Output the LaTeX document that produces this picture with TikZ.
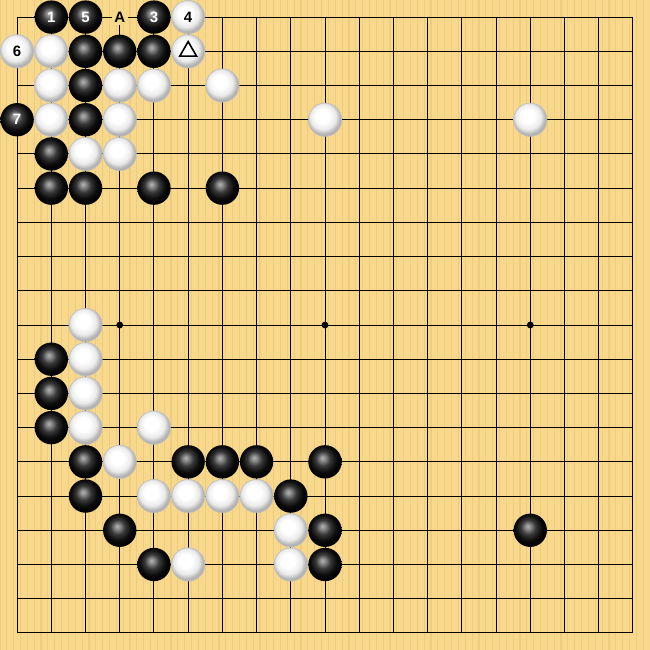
\documentclass[tikz,border=0pt]{standalone}
\usepackage{fontspec}
\setsansfont{Liberation Sans}
\usepackage{tikz}
\usetikzlibrary{shapes.geometric}

\definecolor{boardwood}{RGB}{247,216,140}
\definecolor{boardgrain}{RGB}{238,204,124}
\pgfdeclareradialshading{blackball}{\pgfpoint{-4bp}{6bp}}{color(0bp)=(black!30); color(4bp)=(black!45); color(11bp)=(black!78); color(19bp)=(black!95); color(25bp)=(black); color(50bp)=(black)}
\pgfdeclareradialshading{whiteball}{\pgfpoint{-5bp}{7bp}}{color(0bp)=(white); color(10bp)=(white); color(19bp)=(black!8); color(25bp)=(black!30); color(50bp)=(black!30)}

\tikzset{
  stonebase/.style={circle,inner sep=0pt,minimum size=0.585cm,font=\sffamily\bfseries\fontsize{7.5}{8}\selectfont},
  bstone/.style={stonebase,shade,shading=blackball,text=white},
  wstone/.style={stonebase,shade,shading=whiteball,draw=black!25,line width=0.3pt,text=black},
  gridline/.style={line width=0.45pt,black},
  starpoint/.style={circle,fill=black,inner sep=0pt,minimum size=0.12cm},
}

\begin{document}
\begin{tikzpicture}[x=0.6cm,y=0.6cm]

\newcommand\stone[4]
{
    \node [#1stone] (#1#2-#3) at (#2,-#3) {#4};
}

\fill[boardwood] (-0.5,0.5) rectangle (18.5,-18.5);
\useasboundingbox (-0.5,0.5) rectangle (18.5,-18.5);
\foreach \g in {0,...,94}
    \draw[boardgrain,line width=0.6pt] ({-0.5+0.2*\g},0.5) -- ({-0.5+0.2*\g},-18.5);

% board
\foreach \i in {0,...,18}
{
    \draw[gridline] (\i,0) -- (\i,-18);
    \draw[gridline] (0,-\i) -- (18,-\i);
}
\foreach \x in {3,9,15}
    \foreach \y in {3,9,15}
        \node [starpoint] (star\x-\y) at (\x,-\y) {};

\node [fill=boardwood,inner sep=1.2pt,font=\sffamily\bfseries\fontsize{7.5}{8}\selectfont] (markA) at (3,0) {A};

% upper left
\stone{b}{1}{0}{1}
\stone{b}{2}{0}{5}
\stone{b}{4}{0}{3}
\stone{w}{5}{0}{4}
\stone{w}{0}{1}{6}
\stone{w}{1}{1}{}
\stone{b}{2}{1}{}
\stone{b}{3}{1}{}
\stone{b}{4}{1}{}
\stone{w}{5}{1}{}
\stone{w}{1}{2}{}
\stone{b}{2}{2}{}
\stone{w}{3}{2}{}
\stone{w}{4}{2}{}
\stone{w}{6}{2}{}
\stone{b}{0}{3}{7}
\stone{w}{1}{3}{}
\stone{b}{2}{3}{}
\stone{w}{3}{3}{}
\stone{w}{9}{3}{}
\stone{w}{15}{3}{}
\stone{b}{1}{4}{}
\stone{w}{2}{4}{}
\stone{w}{3}{4}{}
\stone{b}{1}{5}{}
\stone{b}{2}{5}{}
\stone{b}{4}{5}{}
\stone{b}{6}{5}{}

\node [regular polygon,regular polygon sides=3,draw=black,line width=0.8pt,inner sep=0pt,minimum size=0.34cm] (lastmove) at (w5-1) {};

% lower left
\stone{w}{2}{9}{}
\stone{b}{1}{10}{}
\stone{w}{2}{10}{}
\stone{b}{1}{11}{}
\stone{w}{2}{11}{}
\stone{b}{1}{12}{}
\stone{w}{2}{12}{}
\stone{w}{4}{12}{}
\stone{b}{2}{13}{}
\stone{w}{3}{13}{}
\stone{b}{5}{13}{}
\stone{b}{6}{13}{}
\stone{b}{7}{13}{}
\stone{b}{9}{13}{}
\stone{b}{2}{14}{}
\stone{w}{4}{14}{}
\stone{w}{5}{14}{}
\stone{w}{6}{14}{}
\stone{w}{7}{14}{}
\stone{b}{8}{14}{}
\stone{b}{3}{15}{}
\stone{w}{8}{15}{}
\stone{b}{9}{15}{}
\stone{b}{15}{15}{}
\stone{b}{4}{16}{}
\stone{w}{5}{16}{}
\stone{w}{8}{16}{}
\stone{b}{9}{16}{}

\end{tikzpicture}
\end{document}
